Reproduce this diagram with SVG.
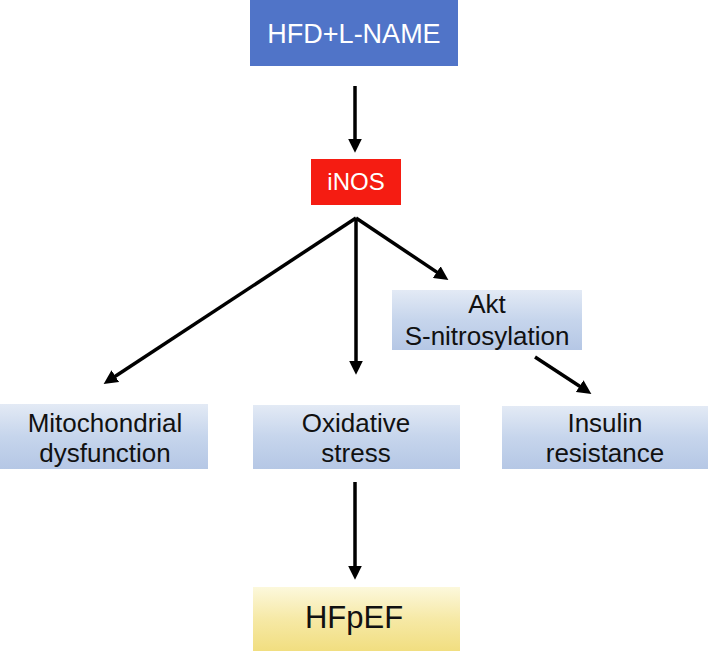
<svg xmlns="http://www.w3.org/2000/svg" width="709" height="651" viewBox="0 0 709 651">
<defs>
<linearGradient id="blueGrad" x1="0" y1="0" x2="0" y2="1">
<stop offset="0" stop-color="#e3eaf5"/>
<stop offset="0.5" stop-color="#c6d5ec"/>
<stop offset="1" stop-color="#b5c7e5"/>
</linearGradient>
<linearGradient id="yellowGrad" x1="0" y1="0" x2="0" y2="1">
<stop offset="0" stop-color="#fcf8dc"/>
<stop offset="0.5" stop-color="#f6e9a6"/>
<stop offset="1" stop-color="#f1de80"/>
</linearGradient>
<marker id="arrow" viewBox="0 0 12 12" refX="2" refY="6" markerWidth="14" markerHeight="14" markerUnits="userSpaceOnUse" orient="auto">
<path d="M0,0 L12,6 L0,12 z" fill="#000"/>
</marker>
</defs>
<style>
.lbl{font-family:"Liberation Sans",Arial,sans-serif;text-anchor:middle;}
.w{fill:#ffffff;}
.k{fill:#111111;font-size:26px;}
.blue{fill:url(#blueGrad);}
.conn{stroke:#000;stroke-width:3.5;fill:none;marker-end:url(#arrow);}
</style>
<rect width="709" height="651" fill="#ffffff"/>
<g id="hfd">
<rect x="250" y="0" width="208" height="66" fill="#5074c8"/>
<text class="lbl w" x="354" y="43" font-size="27">HFD+L-NAME</text>
</g>
<g id="inos">
<rect x="311" y="159" width="90" height="46" fill="#f51c12"/>
<text class="lbl w" x="356" y="190" font-size="24">iNOS</text>
</g>
<g id="akt">
<rect class="blue" x="392" y="290" width="190" height="60"/>
<text class="lbl k" x="487" y="313">Akt</text>
<text class="lbl k" x="487" y="345">S-nitrosylation</text>
</g>
<g id="mito">
<rect class="blue" x="0" y="404" width="208" height="65"/>
<text class="lbl k" x="105" y="432">Mitochondrial</text>
<text class="lbl k" x="105" y="462">dysfunction</text>
</g>
<g id="oxid">
<rect class="blue" x="253" y="405" width="207" height="64"/>
<text class="lbl k" x="356" y="432">Oxidative</text>
<text class="lbl k" x="356" y="462">stress</text>
</g>
<g id="insulin">
<rect class="blue" x="502" y="406" width="206" height="63"/>
<text class="lbl k" x="605" y="432">Insulin</text>
<text class="lbl k" x="605" y="462">resistance</text>
</g>
<g id="hfpef">
<rect x="253" y="587" width="207" height="64" fill="url(#yellowGrad)"/>
<text class="lbl" x="354" y="628" font-size="31" fill="#111">HFpEF</text>
</g>
<g id="connectors">
<line class="conn" x1="355" y1="86" x2="355" y2="141"/>
<line class="conn" x1="356" y1="218" x2="113.4" y2="377.5"/>
<line class="conn" x1="356" y1="218" x2="356" y2="363"/>
<line class="conn" x1="356" y1="218" x2="438.7" y2="273.4"/>
<line class="conn" x1="535" y1="357" x2="581.6" y2="387.5"/>
<line class="conn" x1="355" y1="482" x2="355" y2="568"/>
</g>
</svg>
